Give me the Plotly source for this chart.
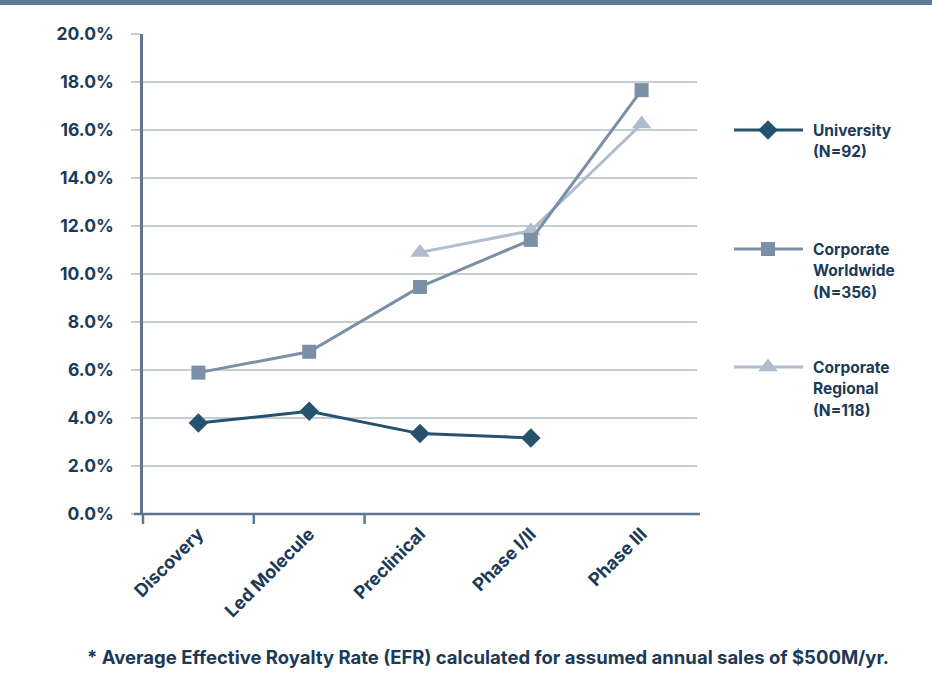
import plotly.graph_objects as go

# Development stages and average effective royalty rates (%)
stages = ["Discovery", "Led Molecule", "Preclinical", "Phase I/II", "Phase III"]
university = [3.79, 4.28, 3.35, 3.17, None]
corp_worldwide = [5.89, 6.76, 9.46, 11.42, 17.66]
corp_regional = [None, None, 10.9, 11.8, 16.25]

y_ticks = [0, 2, 4, 6, 8, 10, 12, 14, 16, 18, 20]
y_tick_text = [f"{v:.1f}%" for v in y_ticks]

legend_names = [["University", "(N=92)"],
                ["Corporate", "Worldwide", "(N=356)"],
                ["Corporate", "Regional", "(N=118)"]]
footnote = "* Average Effective Royalty Rate (EFR) calculated for assumed annual sales of $500M/yr."

W, H = 932, 673
FONT = "Inter"
TEXT = "#1b3a57"
C_UNI = "#24526f"
C_WW = "#7b8fa7"
C_REG = "#b1bdcc"
GRID = "#c4cdd8"
AXIS = "#5f7690"
BAND = "#5f7b97"

# plot area in pixels
PX0, PX1 = 143, 697
PY0, PY1 = 34, 514

series = [
    ("Corporate Regional", corp_regional, C_REG, "triangle-up", 17),
    ("Corporate Worldwide", corp_worldwide, C_WW, "square", 14),
    ("University", university, C_UNI, "diamond", 15),
]

fig = go.Figure()
for name, vals, col, sym, size in series:
    fig.add_trace(go.Scatter(
        x=stages, y=vals, name=name, mode="lines+markers",
        line=dict(color=col, width=3),
        marker=dict(symbol=sym, size=size, color=col, line=dict(width=0)),
        connectgaps=False, showlegend=False, xaxis="x", yaxis="y",
    ))

# Legend samples drawn on a pixel-based overlay axis
legend_rows = [
    (130, C_UNI, "diamond", 15, legend_names[0]),
    (249, C_WW, "square", 14, legend_names[1]),
    (367, C_REG, "triangle-up", 17, legend_names[2]),
]
LINE_GAP = 21.5
annotations = []
for ly, col, sym, size, lines in legend_rows:
    fig.add_trace(go.Scatter(
        x=[734, 803], y=[ly, ly], mode="lines", line=dict(color=col, width=3),
        showlegend=False, xaxis="x2", yaxis="y2", hoverinfo="skip"))
    fig.add_trace(go.Scatter(
        x=[768], y=[ly], mode="markers",
        marker=dict(symbol=sym, size=size, color=col, line=dict(width=0)),
        showlegend=False, xaxis="x2", yaxis="y2", hoverinfo="skip"))
    for k, line_text in enumerate(lines):
        annotations.append(dict(
            x=811, y=ly + k * LINE_GAP, xref="x2", yref="y2",
            xanchor="left", yanchor="middle",
            text=line_text, showarrow=False, align="left",
            font=dict(family=FONT, size=15.5, color=TEXT, weight="bold")))

annotations.append(dict(
    x=488, y=657, xref="x2", yref="y2", xanchor="center", yanchor="middle",
    text=footnote, showarrow=False,
    font=dict(family=FONT, size=18.5, color=TEXT, weight="bold")))

pw = PX1 - PX0
ph = PY1 - PY0
n_cat = len(stages)
shapes = [
    # top band
    dict(type="rect", xref="paper", yref="paper", x0=0, x1=1, y0=1 - 5 / H, y1=1,
         fillcolor=BAND, line=dict(width=0), layer="above"),
    # x axis line (extends slightly beyond the plot area)
    dict(type="line", xref="x domain", yref="y domain", x0=-9 / pw, x1=1 + 3 / pw,
         y0=0, y1=0, line=dict(color=AXIS, width=2.5), layer="above"),
]
# tick marks on category boundaries
for i in range(3):
    xf = i / n_cat
    shapes.append(dict(type="line", xref="x domain", yref="y domain", x0=xf, x1=xf,
                       y0=0, y1=-10 / ph, line=dict(color=AXIS, width=2.5), layer="above"))

fig.update_layout(
    width=W, height=H,
    margin=dict(l=0, r=0, t=0, b=0, pad=0, autoexpand=False),
    paper_bgcolor="white", plot_bgcolor="rgba(0,0,0,0)",
    showlegend=False,
    xaxis=dict(
        domain=[PX0 / W, PX1 / W], anchor="y", type="category",
        range=[-0.5, n_cat - 0.5], showgrid=False, zeroline=False, showline=False,
        ticks="", tickangle=-45, ticklabelstandoff=5, automargin=False,
        tickfont=dict(family=FONT, size=18, color=TEXT, weight="bold"),
    ),
    yaxis=dict(
        domain=[1 - PY1 / H, 1 - PY0 / H], anchor="x",
        range=[0, 20], tickvals=y_ticks, ticktext=y_tick_text,
        showgrid=True, gridcolor=GRID, gridwidth=2, zeroline=False,
        showline=True, linecolor=AXIS, linewidth=2.5,
        ticks="outside", ticklen=9, tickcolor=GRID, tickwidth=2,
        ticklabelstandoff=14, automargin=False,
        tickfont=dict(family=FONT, size=17.5, color=TEXT, weight="bold"),
    ),
    xaxis2=dict(domain=[0, 1], anchor="y2", range=[0, W], visible=False,
                fixedrange=True, automargin=False),
    yaxis2=dict(domain=[0, 1], anchor="x2", range=[H, 0], visible=False,
                fixedrange=True, automargin=False),
    shapes=shapes,
    annotations=annotations,
)

fig.write_html("out.html")
